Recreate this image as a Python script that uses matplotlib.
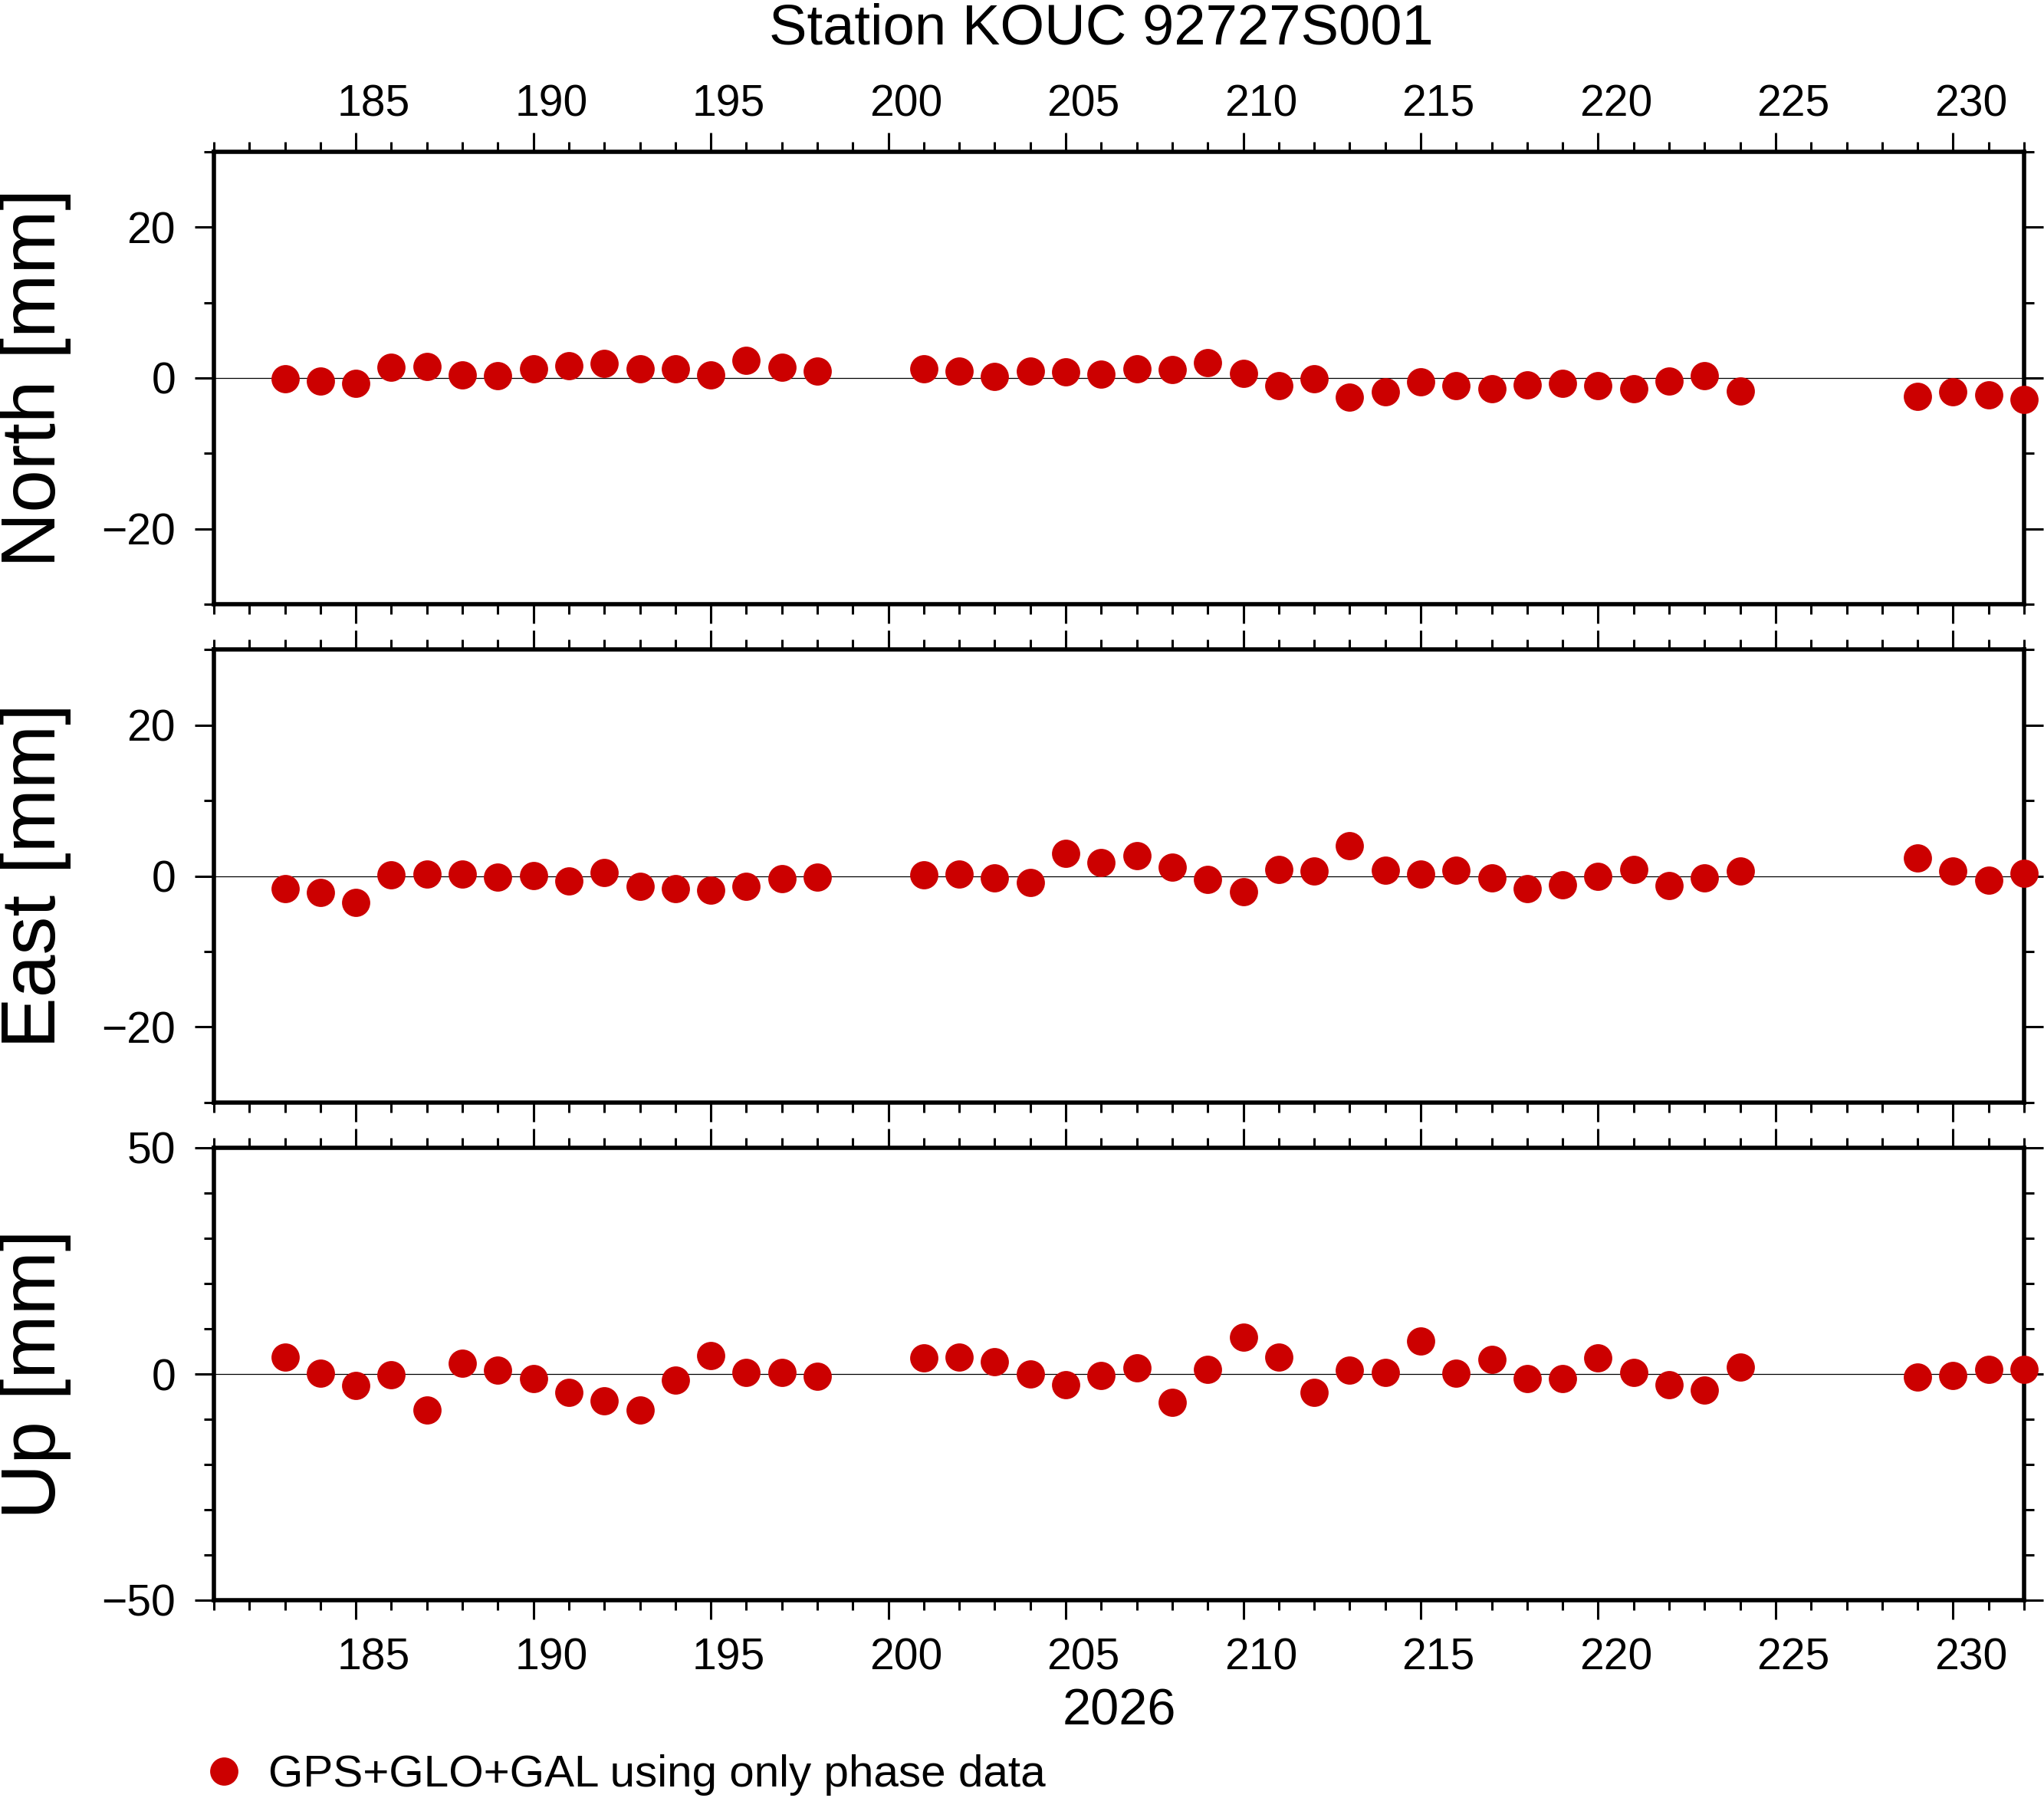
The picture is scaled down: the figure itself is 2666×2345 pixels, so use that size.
#!/usr/bin/env python3
# coding: utf-8
import matplotlib
matplotlib.use("Agg")
import matplotlib.pyplot as plt

from matplotlib.lines import Line2D
from matplotlib.ticker import MultipleLocator, FixedLocator, NullLocator
from matplotlib import transforms

plt.rcParams['font.family'] = ['Liberation Sans', 'DejaVu Sans']

# Day of year 2026 (gaps at 199-200 and 225-228)
days = [183, 184, 185, 186, 187, 188, 189, 190, 191, 192, 193, 194, 195, 196, 197, 198,
        201, 202, 203, 204, 205, 206, 207, 208, 209, 210, 211, 212, 213, 214, 215, 216,
        217, 218, 219, 220, 221, 222, 223, 224,
        229, 230, 231, 232]

# Residuals in mm
north = [-0.1, -0.4, -0.7, 1.4, 1.55, 0.45, 0.3, 1.2, 1.6, 1.9, 1.2, 1.2, 0.4, 2.3, 1.45, 0.9,
         1.2, 0.9, 0.2, 0.9, 0.8, 0.5, 1.25, 1.1, 2.0, 0.6, -1.0, -0.15, -2.5, -1.8, -0.55, -1.0,
         -1.4, -0.9, -0.7, -1.0, -1.4, -0.4, 0.35, -1.7,
         -2.4, -1.8, -2.2, -2.85]
east = [-1.65, -2.2, -3.5, 0.15, 0.3, 0.25, -0.2, 0.05, -0.7, 0.45, -1.35, -1.7, -1.85, -1.35, -0.35, -0.15,
        0.15, 0.25, -0.3, -0.9, 3.0, 1.8, 2.7, 1.2, -0.45, -2.1, 0.9, 0.7, 4.05, 0.8, 0.25, 0.8,
        -0.25, -1.65, -1.15, 0.0, 0.9, -1.3, -0.25, 0.7,
        2.35, 0.7, -0.55, 0.35]
up = [3.7, 0.2, -2.6, -0.1, -7.9, 2.3, 0.8, -1.0, -4.1, -6.0, -7.9, -1.4, 4.1, 0.35, 0.35, -0.5,
      3.6, 3.7, 2.7, 0.0, -2.4, -0.35, 1.3, -6.2, 1.0, 8.15, 3.7, -4.1, 0.8, 0.35, 7.3, 0.2,
      3.3, -1.0, -1.0, 3.6, 0.35, -2.4, -3.6, 1.6,
      -0.7, -0.35, 1.0, 1.0]

# labelled days on the x axes
day_ticks = [185, 190, 195, 200, 205, 210, 215, 220, 225, 230]

panel_names = ["North [mm]", "East [mm]", "Up [mm]"]
panel_data = [north, east, up]
panel_ylim = [(-30, 30), (-30, 30), (-50, 50)]
panel_major = [20, 20, 50]
panel_minor = [10, 10, 10]

title = "Station KOUC 92727S001"
year_label = "2026"
legend_label = "GPS+GLO+GAL using only phase data"
dot_color = "#cc0000"

W, H = 2666, 2345
fig = plt.figure(figsize=(W / 100, H / 100), dpi=100)

# panel frames in pixels (top, bottom); left/right shared
left_px, right_px = 279, 2640
frames = [(198, 788), (847.5, 1437.5), (1497, 2087)]


def day_labels(ax, side, pad):
    # labels sit in the middle of the day, half a day right of the tick
    sec = ax.secondary_xaxis(side, functions=(lambda x: x - 0.5, lambda x: x + 0.5))
    sec.xaxis.set_major_locator(FixedLocator(day_ticks))
    sec.xaxis.set_minor_locator(NullLocator())
    sec.tick_params(which='both', length=0, labelsize=41, pad=pad)
    for s in sec.spines.values():
        s.set_visible(False)
    return sec


axes = []
for i, (top, bot) in enumerate(frames):
    ax = fig.add_axes([left_px / W, (H - bot) / H, (right_px - left_px) / W, (bot - top) / H])
    axes.append(ax)

    ax.axhline(0, color='black', lw=0.9, zorder=1)
    ax.plot(days, panel_data[i], ls='none', marker='o', markersize=26.5,
            color=dot_color, markeredgewidth=0, zorder=3, clip_on=False)

    ax.set_xlim(181, 232)
    ax.set_ylim(*panel_ylim[i])
    ax.xaxis.set_major_locator(MultipleLocator(5))
    ax.xaxis.set_minor_locator(MultipleLocator(1))
    ax.yaxis.set_major_locator(MultipleLocator(panel_major[i]))
    ax.yaxis.set_minor_locator(MultipleLocator(panel_minor[i]))

    for s in ax.spines.values():
        s.set_linewidth(4.0)

    ax.tick_params(which='both', direction='out', top=True, bottom=True, left=True, right=True,
                   width=2.2, labelsize=41, labelleft=True, labelright=False,
                   labeltop=False, labelbottom=False)
    ax.tick_params(which='major', length=18)
    ax.tick_params(which='minor', length=9.5)
    ax.tick_params(axis='y', which='major', pad=18)

    ax.set_ylabel(panel_names[i], fontsize=72)
    trans = transforms.blended_transform_factory(fig.transFigure, ax.transAxes)
    ax.yaxis.set_label_coords(93 / W, 0.5, transform=trans)

day_labels(axes[0], 'top', 25)
day_labels(axes[2], 'bottom', 35)

fig.text(1436 / W, 1 - 57 / H, title, ha='center', va='baseline', fontsize=53.5)
fig.text(1460 / W, 1 - 2249 / H, year_label, ha='center', va='baseline', fontsize=48)

handle = Line2D([], [], ls='none', marker='o', markersize=26.5, color=dot_color,
                markeredgewidth=0)
fig.legend(handles=[handle], labels=[legend_label], loc='center left',
           bbox_to_anchor=(263 / W, 1 - 2315 / H), frameon=False, fontsize=42,
           borderpad=0, borderaxespad=0, handlelength=1.0, handletextpad=0.5)

fig.savefig("out.png", dpi=100)
